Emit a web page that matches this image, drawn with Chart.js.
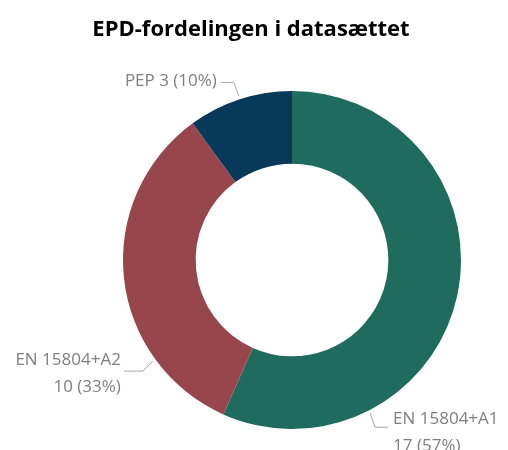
<!DOCTYPE html>
<html>
<head>
<meta charset="utf-8">
<script src="https://cdn.jsdelivr.net/npm/chart.js@4"></script>
<style>
  html, body { margin: 0; padding: 0; background: #fff; }
  #wrap { width: 508px; height: 450px; }
</style>
</head>
<body>
<div id="wrap"><canvas id="epdChart"></canvas></div>
<script>
// data
const categories = ["EN 15804+A1", "EN 15804+A2", "PEP 3"];
const counts = [17, 10, 3];
const colours = ["#1f6b5e", "#97464c", "#063a58"];

const chartTitle = "EPD-fordelingen i datasættet";

// where on each slice the leader line touches (fraction of the arc),
// and how the label sits relative to that point
const labelSetup = [
  { frac: 0.75, elbow: [5, 14], end: [18, 14], align: "left", text: [23, 6] },
  { frac: 0.25, elbow: [-10, 10], end: [-29, 10], align: "right", text: [-32, -1] },
  { frac: 0.5, elbow: [-5, -14], end: [-18, -14], align: "right", text: [-22, -15] }
];

const total = counts.reduce((a, b) => a + b, 0);

// draws the title and the outside labels with leader lines
const outsideLabels = {
  id: "outsideLabels",
  afterDraw(chart) {
    const ctx = chart.ctx;
    ctx.save();
    ctx.fillStyle = "#000";
    ctx.font = "bold 22px 'Open Sans'";
    ctx.textAlign = "center";
    ctx.textBaseline = "middle";
    ctx.fillText(chartTitle, 251, 30);

    const arcs = chart.getDatasetMeta(0).data;
    arcs.forEach((arc, i) => {
      const s = labelSetup[i];
      const a = arc.startAngle + (arc.endAngle - arc.startAngle) * s.frac;
      const r = arc.outerRadius + 3;
      const px = arc.x + Math.cos(a) * r;
      const py = arc.y + Math.sin(a) * r;
      ctx.strokeStyle = "#a6a6a6";
      ctx.lineWidth = 1;
      ctx.beginPath();
      ctx.moveTo(px, py);
      ctx.lineTo(px + s.elbow[0], py + s.elbow[1]);
      ctx.lineTo(px + s.end[0], py + s.end[1]);
      ctx.stroke();

      const pct = Math.round(counts[i] / total * 100);
      ctx.fillStyle = "#7f7f7f";
      ctx.font = "17px 'Open Sans'";
      ctx.textAlign = s.align;
      ctx.textBaseline = "middle";
      const tx = px + s.text[0];
      const ty = py + s.text[1];
      if (i === 2) {
        ctx.fillText(categories[i] + " (" + pct + "%)", tx, ty);
      } else {
        ctx.fillText(categories[i], tx, ty);
        ctx.fillText(counts[i] + " (" + pct + "%)", tx, ty + 27);
      }
    });
    ctx.restore();
  }
};

new Chart(document.getElementById("epdChart"), {
  type: "doughnut",
  data: {
    labels: categories,
    datasets: [{
      data: counts,
      backgroundColor: colours,
      borderWidth: 0
    }]
  },
  options: {
    responsive: true,
    maintainAspectRatio: false,
    animation: false,
    cutout: "57%",
    layout: { padding: { top: 91, bottom: 21, left: 114, right: 38 } },
    plugins: {
      legend: { display: false },
      tooltip: { enabled: false },
      title: { display: false }
    }
  },
  plugins: [outsideLabels]
});
</script>
</body>
</html>
